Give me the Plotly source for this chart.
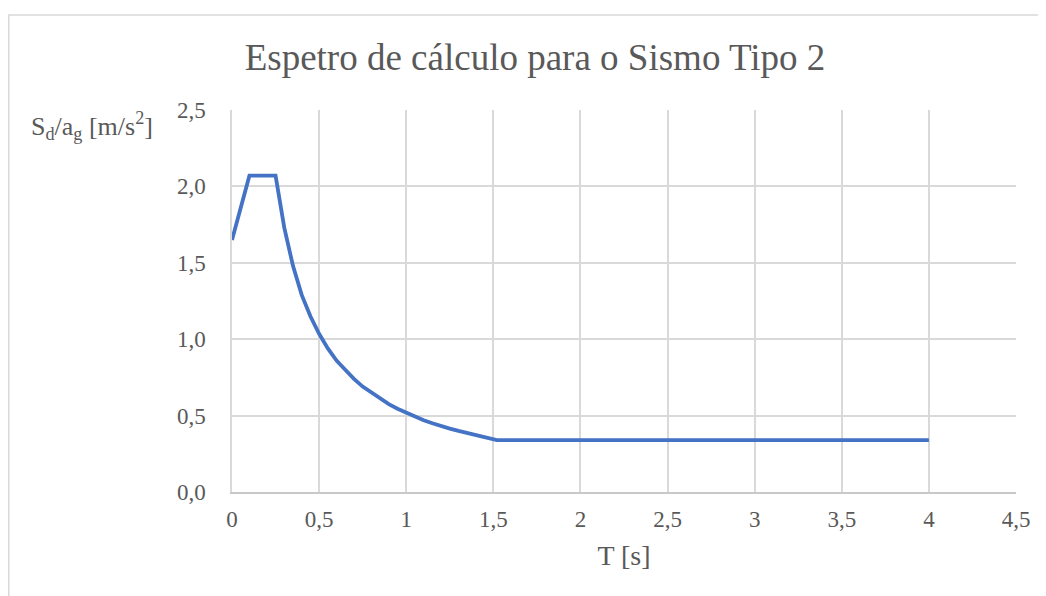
import plotly.graph_objects as go

T = [0, 0.1, 0.25, 0.3, 0.35, 0.4, 0.45, 0.5, 0.55, 0.6, 0.65, 0.7, 0.75, 0.8,
     0.85, 0.9, 0.95, 1.0, 1.05, 1.1, 1.15, 1.2, 1.25, 1.3, 1.35, 1.4, 1.45,
     1.5, 1.52, 2.0, 2.5, 3.0, 3.5, 4.0]
Sd = [1.65, 2.07, 2.07, 1.73, 1.48, 1.29, 1.15, 1.035, 0.94, 0.86, 0.80, 0.74, 0.69, 0.65,
      0.61, 0.575, 0.545, 0.52, 0.49, 0.47, 0.45, 0.43, 0.415, 0.40, 0.385, 0.37, 0.357,
      0.345, 0.34, 0.34, 0.34, 0.34, 0.34, 0.34]

x_ticks = [0, 0.5, 1, 1.5, 2, 2.5, 3, 3.5, 4, 4.5]
x_labels = ["0", "0,5", "1", "1,5", "2", "2,5", "3", "3,5", "4", "4,5"]
y_ticks = [0, 0.5, 1.0, 1.5, 2.0, 2.5]
y_labels = ["0,0", "0,5", "1,0", "1,5", "2,0", "2,5"]

FONT = "Liberation Serif, Times New Roman, serif"
GREY = "#595959"

W, H, OFF = 1038, 588, 8

fig = go.Figure()
fig.add_trace(go.Scatter(x=T, y=Sd, mode="lines",
                         line=dict(color="#4472C4", width=3.8),
                         showlegend=False))

fig.update_layout(
    width=W, height=H,
    margin=dict(l=232 - OFF, r=30, t=110 - OFF, b=104),
    paper_bgcolor="white", plot_bgcolor="white",
    font=dict(family=FONT, color=GREY, size=23),
    title=dict(text="Espetro de cálculo para o Sismo Tipo 2",
               x=(535 - OFF) / W, xanchor="center", y=1 - (57 - OFF) / H, yanchor="middle",
               font=dict(family=FONT, size=37, color=GREY)),
    xaxis=dict(range=[0, 4.5], tickvals=x_ticks, ticktext=x_labels,
               showgrid=True, gridcolor="#d9d9d9", gridwidth=1.5,
               zeroline=False, showline=True, linecolor="#c8c8c8", linewidth=1.5,
               ticks="", ticklabelstandoff=6,
               title=dict(text="T [s]", font=dict(family=FONT, size=28, color=GREY), standoff=14)),
    yaxis=dict(range=[0, 2.5], tickvals=y_ticks, ticktext=y_labels,
               showgrid=True, gridcolor="#d9d9d9", gridwidth=1.5,
               zeroline=False, showline=True, linecolor="#d9d9d9", linewidth=1.5,
               ticks="", ticklabelstandoff=20),
    annotations=[dict(text="S<sub>d</sub>/a<sub>g</sub> [m/s<sup>2</sup>]",
                      xref="paper", yref="paper",
                      x=(29 - 232) / 784, y=(492 - 126) / 382,
                      xanchor="left", yanchor="middle", showarrow=False,
                      font=dict(family=FONT, size=26, color=GREY))],
    shapes=[dict(type="rect", xref="paper", yref="paper",
                 x0=(8.8 - 232) / 784, x1=(1060 - 232) / 784,
                 y0=(492 - 610) / 382, y1=(492 - 15) / 382,
                 line=dict(color="#d9d9d9", width=1.5), layer="below")],
)

fig.write_html("out.html")
